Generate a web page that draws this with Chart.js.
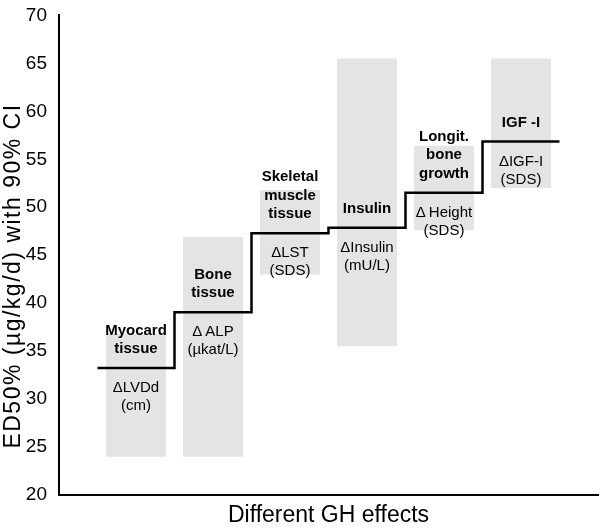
<!DOCTYPE html>
<html><head><meta charset="utf-8">
<script src="https://cdn.jsdelivr.net/npm/chart.js@4/dist/chart.umd.min.js"></script>
<style>html,body{margin:0;padding:0;background:#fff}</style>
</head><body>
<canvas id="c" width="600" height="529"></canvas>
<script>
// ---- data ----
const categories = ['Myocard tissue', 'Bone tissue', 'Skeletal muscle tissue', 'Insulin', 'Longit. bone growth', 'IGF -I'];
const titleLines = [['Myocard', 'tissue'], ['Bone', 'tissue'], ['Skeletal', 'muscle', 'tissue'], ['Insulin'], ['Longit.', 'bone', 'growth'], ['IGF -I']];
const measureLines = [['\u0394LVDd', '(cm)'], ['\u0394\u2009ALP', '(\u00b5kat/L)'], ['\u0394LST', '(SDS)'], ['\u0394Insulin', '(mU/L)'], ['\u0394\u2009Height', '(SDS)'], ['\u0394IGF-I', '(SDS)']];
const ciLow = [24.0, 24.0, 43.0, 35.5, 47.6, 52.0];
const ciHigh = [36.8, 46.9, 51.8, 65.5, 56.4, 65.5];
const ed50 = [33.25, 39.05, 47.3, 47.85, 51.5, 56.85];
const yTicks = [20, 25, 30, 35, 40, 45, 50, 55, 60, 65, 70];
const xTitle = 'Different GH effects';
const yTitle = 'ED50% (\u00b5g/kg/d) with 90% CI';

const FONT = "'Liberation Sans', Arial, Helvetica, sans-serif";

const barData = categories.map((c, i) => ({ x: i, y: [ciLow[i], ciHigh[i]] }));
const stepData = [];
ed50.forEach((v, i) => { stepData.push({ x: i - 0.5, y: v }); stepData.push({ x: i + 0.5, y: v }); });

const labelPlugin = {
  id: 'labels',
  afterDatasetsDraw(chart) {
    const ctx = chart.ctx;
    const xs = chart.scales.x, ys = chart.scales.y;
    ctx.save();
    ctx.fillStyle = '#000';
    ctx.textAlign = 'center';
    ctx.textBaseline = 'middle';
    categories.forEach((c, i) => {
      const px = xs.getPixelForValue(i);
      const py = ys.getPixelForValue(ed50[i]);
      ctx.font = 'bold 15px ' + FONT;
      const tl = titleLines[i];
      for (let k = 0; k < tl.length; k++) {
        ctx.fillText(tl[tl.length - 1 - k], px, py - 19 - k * 18.5);
      }
      ctx.font = '15px ' + FONT;
      const ml = measureLines[i];
      for (let k = 0; k < ml.length; k++) {
        ctx.fillText(ml[k], px, py + 20 + k * 18);
      }
    });
    // y-axis title
    ctx.save();
    ctx.translate(14, 276);
    ctx.rotate(-Math.PI / 2);
    ctx.font = '23px ' + FONT;
    if ('letterSpacing' in ctx) ctx.letterSpacing = '1.5px';
    ctx.fillText(yTitle, 0, 0);
    ctx.restore();
    ctx.restore();
  }
};

new Chart(document.getElementById('c'), {
  data: {
    datasets: [
      { type: 'line', data: stepData, borderColor: '#000', borderWidth: 2.5, pointRadius: 0, tension: 0, fill: false, order: 0 },
      { type: 'bar', data: barData, backgroundColor: '#e4e4e4', borderWidth: 0, categoryPercentage: 1, barPercentage: 0.78, order: 1 }
    ]
  },
  options: {
    responsive: false,
    animation: false,
    layout: { padding: { top: 12, right: 2, left: 0, bottom: 0 } },
    plugins: { legend: { display: false }, tooltip: { enabled: false } },
    scales: {
      x: {
        type: 'linear', min: -1, max: 6, offset: false,
        grid: { display: false },
        border: { display: true, color: '#000', width: 2 },
        ticks: { display: false },
        title: { display: true, text: xTitle, color: '#000', font: { family: FONT, size: 23 }, padding: { top: 0, bottom: 0 } },
        afterFit(s) { s.height = 34; }
      },
      y: {
        type: 'linear', min: 20, max: 70,
        grid: { display: false },
        border: { display: true, color: '#000', width: 2 },
        afterBuildTicks(s) { s.ticks = yTicks.map(v => ({ value: v })); },
        ticks: { color: '#000', font: { family: FONT, size: 19 }, padding: 4 },
        title: { display: false },
        afterFit(s) { s.width = 59; }
      }
    }
  },
  plugins: [labelPlugin]
});
</script>
</body></html>
